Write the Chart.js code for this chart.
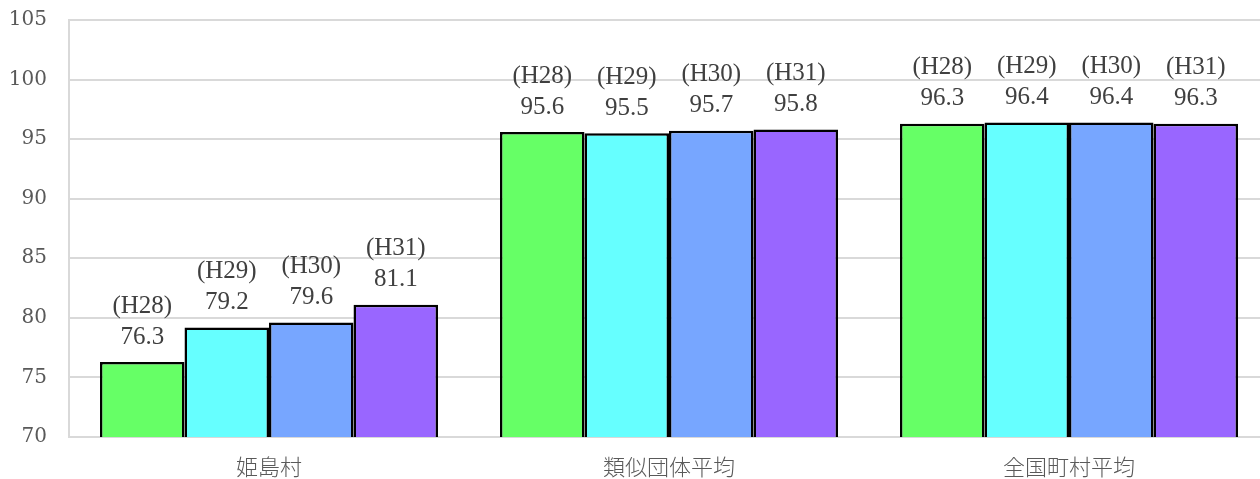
<!DOCTYPE html>
<html>
<head>
<meta charset="utf-8">
<script src="https://cdn.jsdelivr.net/npm/chart.js@4.4.1/dist/chart.umd.min.js"></script>
<style>
  html, body { margin: 0; padding: 0; background: #fff; overflow: hidden; width: 1260px; height: 479px; }
</style>
</head>
<body>
<!-- canvas is a bit wider than the window: the plot area runs past the right edge, as in the original -->
<canvas id="chart" width="1269" height="479"></canvas>
<script>
const categories = ['姫島村', '類似団体平均', '全国町村平均'];
const years = ['(H28)', '(H29)', '(H30)', '(H31)'];
const h28 = [76.3, 95.6, 96.3];
const h29 = [79.2, 95.5, 96.4];
const h30 = [79.6, 95.7, 96.4];
const h31 = [81.1, 95.8, 96.3];
const colors = ['#66FF66', '#66FFFF', '#77A6FF', '#9966FF'];

const ctx = document.getElementById('chart');

// two-line labels above each bar: year, then value
const barLabels = {
    id: 'barLabels',
    afterDatasetsDraw(chart) {
        const c = chart.ctx;
        c.save();
        c.fillStyle = '#404040';
        c.textAlign = 'center';
        c.textBaseline = 'middle';
        c.font = '25px "Liberation Serif"';
        chart.data.datasets.forEach((ds, i) => {
            chart.getDatasetMeta(i).data.forEach((bar, j) => {
                c.fillText(ds.data[j].toFixed(1), bar.x, bar.y - 25);
                c.fillText(years[i], bar.x, bar.y - 56);
            });
        });
        c.restore();
    }
};

new Chart(ctx, {
    type: 'bar',
    data: {
        labels: categories,
        datasets: [h28, h29, h30, h31].map((d, i) => ({
            label: years[i],
            data: d,
            backgroundColor: colors[i],
            borderColor: '#000',
            borderWidth: 2.5,
            borderSkipped: 'bottom',
            categoryPercentage: 0.845,
            barPercentage: 1.0
        }))
    },
    options: {
        responsive: false,
        animation: false,
        layout: { padding: { top: 20, right: 0, left: 0, bottom: 0 } },
        plugins: {
            legend: { display: false },
            tooltip: { enabled: false }
        },
        scales: {
            x: {
                grid: { display: false },
                border: { display: true, color: '#d9d9d9', width: 2 },
                ticks: {
                    color: '#595959',
                    padding: 8,
                    font: { family: '"Noto Sans CJK JP"', size: 22, weight: '300' }
                },
                afterFit(scale) { scale.height = 42; }
            },
            y: {
                min: 70,
                max: 105,
                grid: { color: '#d9d9d9', lineWidth: 2, drawTicks: false },
                border: { display: true, color: '#d9d9d9', width: 2 },
                ticks: {
                    stepSize: 5,
                    color: '#595959',
                    padding: 22,
                    font: { family: '"DejaVu Serif"', size: 20 }
                },
                afterFit(scale) {
                    scale.width = 69;
                    scale.paddingTop = 0;
                    scale.paddingBottom = 0;
                }
            }
        }
    },
    plugins: [barLabels]
});
</script>
</body>
</html>
